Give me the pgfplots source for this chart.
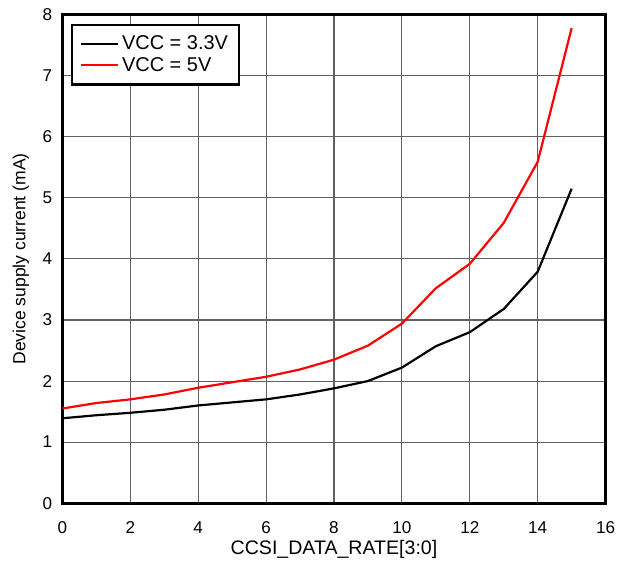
\documentclass[border=0pt]{standalone}
\usepackage{fontspec}
\setmainfont{Liberation Sans}
\usepackage{pgfplots}
\pgfplotsset{compat=1.18}

\begin{document}
\begin{tikzpicture}
\begin{axis}[
    scale only axis,
    width=397pt, height=357pt,
    xmin=0, xmax=16, ymin=0, ymax=8,
    xtick={0,2,...,16}, ytick={0,1,...,8},
    grid=major,
    major grid style={black!62, line width=0.75pt},
    axis line style={line width=2pt},
    major tick length=0pt,
    tick label style={font=\fontsize{12.5}{14}\selectfont},
    /pgf/number format/assume math mode=true,
    xticklabel style={yshift=-10pt},
    yticklabel style={xshift=-4pt},
    xlabel={CCSI\_DATA\_RATE[3:0]},
    ylabel={Device supply current (mA)},
    xlabel style={font=\fontsize{14.3}{16}\selectfont, yshift=2pt},
    ylabel style={font=\fontsize{12.8}{14}\selectfont, yshift=3pt},
    legend style={at={(0.015,0.982)}, anchor=north west, draw=black, line width=2pt,
        font=\fontsize{14.6}{16}\selectfont, inner xsep=6pt, inner ysep=6pt,
        row sep=0pt, cells={anchor=west}},
    legend image code/.code={\draw[#1, line width=1.6pt] (0cm,0cm) -- (0.95cm,0cm);},
]
\addplot[black, line width=1.6pt] coordinates {
    (0,1.39) (1,1.44) (2,1.48) (3,1.53) (4,1.60) (5,1.65) (6,1.70) (7,1.78)
    (8,1.88) (9,2.00) (10,2.22) (11,2.57) (12,2.80) (13,3.18) (14,3.79) (15,5.15)
};
\addplot[red, line width=1.6pt] coordinates {
    (0,1.55) (1,1.64) (2,1.70) (3,1.78) (4,1.89) (5,1.98) (6,2.07) (7,2.19)
    (8,2.35) (9,2.58) (10,2.94) (11,3.52) (12,3.92) (13,4.59) (14,5.59) (15,7.78)
};
\legend{VCC = 3.3V, VCC = 5V}
\end{axis}
% white margins as in the reference
\path (current bounding box.south west) ++(-6pt,0pt);
\path (current bounding box.north east) ++(1pt,3pt);
\end{tikzpicture}
\end{document}
